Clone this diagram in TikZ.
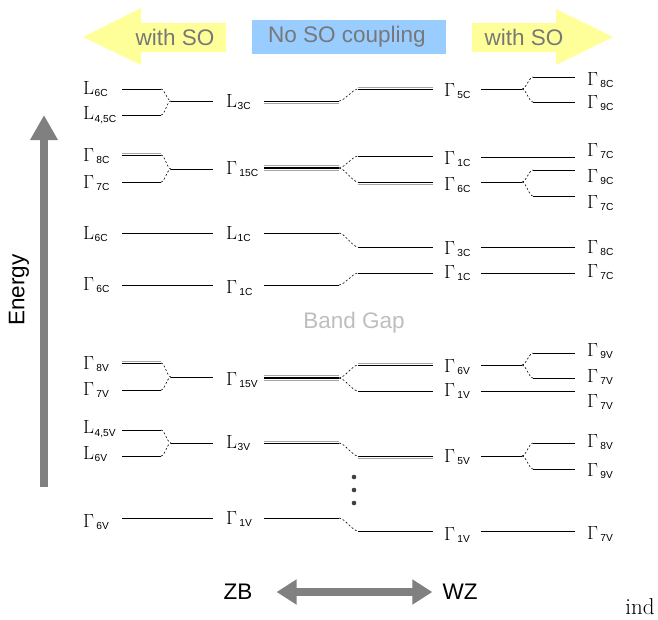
\documentclass[tikz,border=0pt]{standalone}
\usepackage[no-math]{fontspec}
\setsansfont{Liberation Sans}
\usetikzlibrary{arrows.meta}

\definecolor{soyellow}{RGB}{255,255,153}
\definecolor{nosoblue}{RGB}{153,204,255}
\definecolor{captxt}{RGB}{120,120,120}
\definecolor{gaptxt}{RGB}{190,190,190}
\definecolor{axisgray}{RGB}{128,128,128}
\definecolor{levgray}{RGB}{165,165,165}

% level labels: serif symbol with a sans-serif subscript
\newcommand{\lvsub}[1]{\raisebox{-2.8pt}{\fontsize{10.2}{12}\selectfont\sffamily #1}}
\newcommand{\Glab}[1]{{\fontsize{17.28}{20}\selectfont\scalebox{1.1}{$\Gamma$}}\kern2.3pt\lvsub{#1}}
\newcommand{\Llab}[1]{L\kern0.5pt\lvsub{#1}}

% energy levels
\newcommand{\lev}[3]{\draw[lvl] (#1,#3) -- (#2,#3);}
% black level with a grey companion offset by #4 (negative = above)
\newcommand{\levd}[4]{\draw[lvl] (#1,#3) -- (#2,#3);\draw[lvlg] (#1,#3+#4) -- (#2,#3+#4);}
% fourfold (grey/black/black/grey) level
\newcommand{\levq}[3]{%
  \draw[lvlg] (#1,#3-2.3) -- (#2,#3-2.3);
  \draw[lvl]  (#1,#3-0.8) -- (#2,#3-0.8);
  \draw[lvl]  (#1,#3+0.8) -- (#2,#3+0.8);
  \draw[lvlg] (#1,#3+2.3) -- (#2,#3+2.3);}
% dashed correlation between levels
\newcommand{\corr}[4]{\draw[corrline] (#1,#2) to[out=0,in=180,looseness=0.6] (#3,#4);}

\tikzset{
  lvl/.style={draw=black, line width=0.8pt},
  lvlg/.style={draw=levgray, line width=0.8pt},
  corrline/.style={draw=black, line width=0.6pt, dash pattern=on 2pt off 2pt},
  lab/.style={anchor=west, inner sep=0pt, yshift=-1pt, font=\fontsize{19}{22}\selectfont},
  caption/.style={font=\sffamily\fontsize{22.5}{26}\selectfont, inner sep=0pt},
}

\begin{document}
\begin{tikzpicture}[x=1pt, y=-1pt]
\useasboundingbox (0,0) rectangle (658,619);

% ---------- header: coupling regimes ----------
\fill[soyellow] (83,37) -- (141,8) -- (141,23) -- (226,23) -- (226,52)
                -- (141,52) -- (141,65) -- cycle;
\node[caption, text=captxt] (soL) at (175,37) {with SO};
\fill[nosoblue] (252,20) rectangle (446,54);
\node[caption, text=captxt] (noso) at (347,37) {No SO coupling};
\fill[soyellow] (472,23) -- (556,23) -- (556,9) -- (613,37) -- (556,65)
                -- (556,52) -- (472,52) -- cycle;
\node[caption, text=captxt] (soR) at (524,37) {with SO};

% ---------- energy axis ----------
\coordinate (ebot) at (44,487);
\coordinate (etop) at (44,115);
\draw[axisgray, line width=8.5pt, -{Triangle[width=26pt,length=25pt]}] (ebot) -- (etop);
\node[caption, rotate=90] (energy) at (19,290) {Energy};

% ---------- conduction band ----------
% L_3C
\lev{122}{161}{89} \lev{122}{161}{115}
\corr{161}{89}{171}{101} \corr{161}{115}{171}{101}
\lev{171}{213}{101}
\levd{264}{339}{101}{2}
\corr{339}{101}{358}{89}
\levd{358}{433}{89}{-2}
\lev{481}{522}{89}
\corr{522}{89}{533}{77} \corr{522}{89}{533}{102}
\lev{533}{575}{77} \lev{533}{575}{102}

% Gamma_15C
\levd{122}{161}{155}{-2} \lev{122}{161}{182}
\corr{161}{155}{171}{169} \corr{161}{182}{171}{169}
\lev{171}{213}{169}
\levq{264}{339}{168}
\corr{339}{168}{358}{156} \corr{339}{168}{358}{182}
\lev{358}{433}{156}
\levd{358}{433}{182}{2}
\lev{481}{575}{157}
\lev{481}{522}{182}
\corr{522}{182}{533}{170} \corr{522}{182}{533}{196}
\lev{533}{575}{170} \lev{533}{575}{196}

% L_1C
\lev{122}{213}{233}
\lev{264}{339}{233}
\corr{339}{233}{358}{247}
\lev{358}{433}{247}
\lev{481}{575}{247}

% Gamma_1C
\lev{122}{213}{285}
\lev{264}{339}{285}
\corr{339}{285}{358}{273}
\lev{358}{433}{273}
\lev{481}{575}{273}

\node[caption, text=gaptxt] (gap) at (354,323) {Band Gap};

% ---------- valence band ----------
% Gamma_15V
\levd{122}{161}{363}{-2} \lev{122}{161}{390}
\corr{161}{363}{171}{377} \corr{161}{390}{171}{377}
\lev{171}{213}{377}
\levq{264}{339}{378}
\corr{339}{378}{358}{365} \corr{339}{378}{358}{391}
\levd{358}{433}{365}{-2}
\lev{358}{433}{391}
\lev{481}{522}{365}
\corr{522}{365}{533}{353} \corr{522}{365}{533}{378}
\lev{533}{575}{353} \lev{533}{575}{378}
\lev{481}{575}{391}

% L_3V
\lev{122}{161}{430} \lev{122}{161}{456}
\corr{161}{430}{171}{443} \corr{161}{456}{171}{443}
\lev{171}{213}{443}
\levd{264}{339}{443}{-2}
\corr{339}{443}{358}{456}
\levd{358}{433}{456}{2}
\lev{481}{522}{456}
\corr{522}{456}{533}{443} \corr{522}{456}{533}{469}
\lev{533}{575}{443} \lev{533}{575}{469}

% more levels below
\foreach \yy in {477,490,503} \fill[black!75] (354,\yy) circle (2.3pt);

% Gamma_1V
\lev{122}{213}{518}
\lev{264}{339}{518}
\corr{339}{518}{358}{531}
\lev{358}{433}{531}
\lev{481}{575}{531}

% ---------- labels: ZB with SO ----------
\node[lab] (zs1) at (83,88)  {\Llab{6C}};
\node[lab] (zs2) at (83,114) {\Llab{4,5C}};
\node[lab] (zs3) at (83,155) {\Glab{8C}};
\node[lab] (zs4) at (83,182) {\Glab{7C}};
\node[lab] (zs5) at (83,233) {\Llab{6C}};
\node[lab] (zs6) at (83,284) {\Glab{6C}};
\node[lab] (zs7) at (83,363) {\Glab{8V}};
\node[lab] (zs8) at (83,389) {\Glab{7V}};
\node[lab] (zs9) at (83,428) {\Llab{4,5V}};
\node[lab] (zs10) at (83,453) {\Llab{6V}};
\node[lab] (zs11) at (83,521) {\Glab{6V}};

% ---------- labels: ZB without SO ----------
\node[lab] (zn1) at (226,101) {\Llab{3C}};
\node[lab] (zn2) at (226,168) {\Glab{15C}};
\node[lab] (zn3) at (226,233) {\Llab{1C}};
\node[lab] (zn4) at (226,287) {\Glab{1C}};
\node[lab] (zn5) at (226,379) {\Glab{15V}};
\node[lab] (zn6) at (226,442) {\Llab{3V}};
\node[lab] (zn7) at (226,518) {\Glab{1V}};

% ---------- labels: WZ without SO ----------
\node[lab] (wn1) at (444,90)  {\Glab{5C}};
\node[lab] (wn2) at (444,158) {\Glab{1C}};
\node[lab] (wn3) at (444,184) {\Glab{6C}};
\node[lab] (wn4) at (444,248) {\Glab{3C}};
\node[lab] (wn5) at (444,272) {\Glab{1C}};
\node[lab] (wn6) at (444,366) {\Glab{6V}};
\node[lab] (wn7) at (444,390) {\Glab{1V}};
\node[lab] (wn8) at (444,456) {\Glab{5V}};
\node[lab] (wn9) at (444,534) {\Glab{1V}};

% ---------- labels: WZ with SO ----------
\node[lab] (ws1) at (587,79)  {\Glab{8C}};
\node[lab] (ws2) at (587,102) {\Glab{9C}};
\node[lab] (ws3) at (587,150) {\Glab{7C}};
\node[lab] (ws4) at (587,176) {\Glab{9C}};
\node[lab] (ws5) at (587,202) {\Glab{7C}};
\node[lab] (ws6) at (587,247) {\Glab{8C}};
\node[lab] (ws7) at (587,271) {\Glab{7C}};
\node[lab] (ws8) at (587,350) {\Glab{9V}};
\node[lab] (ws9) at (587,376) {\Glab{7V}};
\node[lab] (ws10) at (587,401) {\Glab{7V}};
\node[lab] (ws11) at (587,441) {\Glab{8V}};
\node[lab] (ws12) at (587,470) {\Glab{9V}};
\node[lab] (ws13) at (587,533) {\Glab{7V}};

% ---------- structure axis ----------
\node[caption] (zb) at (238,592) {ZB};
\node[caption] (wz) at (460,592) {WZ};
\draw[axisgray, line width=8pt,
      {Triangle[width=24pt,length=20pt]}-{Triangle[width=24pt,length=20pt]}]
  ([xshift=24pt]zb.east) -- ([xshift=-10pt]wz.west);

\node[font=\fontsize{23}{26}\selectfont, inner sep=0pt] (ind) at (640,607) {ind};
\end{tikzpicture}
\end{document}
